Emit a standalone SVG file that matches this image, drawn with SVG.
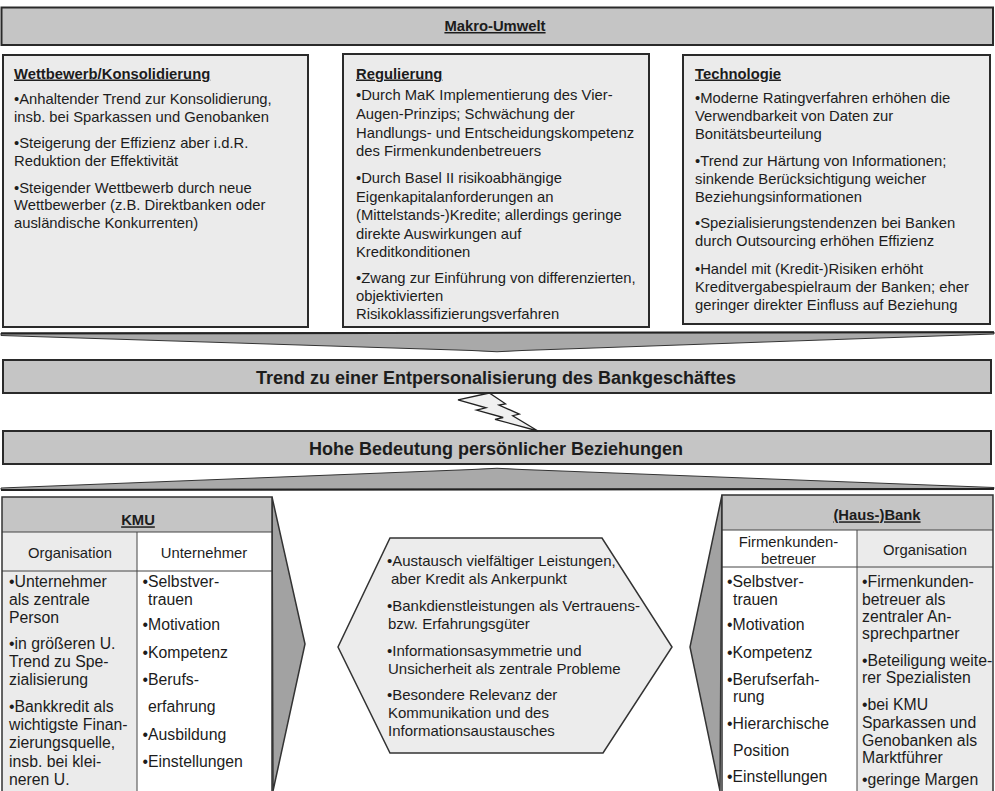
<svg xmlns="http://www.w3.org/2000/svg" width="995" height="791" viewBox="0 0 995 791">
<style>
.t{font-family:"Liberation Sans",Arial,Helvetica,sans-serif;font-size:14.8px;fill:#1c1c1c}
.m{font-size:15px}
.s{font-size:15.8px}
.h{font-weight:bold;text-decoration:underline}
.big{font-family:"Liberation Sans",Arial,Helvetica,sans-serif;font-size:18px;font-weight:bold;fill:#1c1c1c}
.c{text-anchor:middle}
.bar{fill:#c5c5c5;stroke:#2a2a2a;stroke-width:2}
.box{fill:#ebebeb;stroke:#2a2a2a;stroke-width:2}
.grid{fill:none;stroke:#444;stroke-width:1}
.chev{fill:#a9a9a9;stroke:#333;stroke-width:1}
.wedge{fill:#a2a2a2;stroke:#333;stroke-width:1.5}
</style>

<g id="banner">
<rect class="bar" x="1.5" y="7.5" width="991.5" height="37.5"/>
<text class="t h c" x="495" y="31">Makro-Umwelt</text>
</g>

<g id="box-wettbewerb">
<rect class="box" x="3" y="55" width="305" height="272"/>
<text class="t h" x="14" y="78.5">Wettbewerb/Konsolidierung</text>
<text class="t" x="14" y="104">•Anhaltender Trend zur Konsolidierung,</text>
<text class="t" x="14" y="121.5">insb. bei Sparkassen und Genobanken</text>
<text class="t" x="14" y="148">•Steigerung der Effizienz aber i.d.R.</text>
<text class="t" x="14" y="165.8">Reduktion der Effektivität</text>
<text class="t" x="14" y="192.5">•Steigender Wettbewerb durch neue</text>
<text class="t" x="14" y="210.2">Wettbewerber (z.B. Direktbanken oder</text>
<text class="t" x="14" y="228.2">ausländische Konkurrenten)</text>
</g>

<g id="box-regulierung">
<rect class="box" x="343" y="54" width="306" height="273"/>
<text class="t h" x="356" y="78.5">Regulierung</text>
<text class="t" x="356" y="100">•Durch MaK Implementierung des Vier-</text>
<text class="t" x="356" y="118.8">Augen-Prinzips; Schwächung der</text>
<text class="t" x="356" y="137.6">Handlungs- und Entscheidungskompetenz</text>
<text class="t" x="356" y="156.4">des Firmenkundenbetreuers</text>
<text class="t" x="356" y="183">•Durch Basel II risikoabhängige</text>
<text class="t" x="356" y="201.5">Eigenkapitalanforderungen an</text>
<text class="t" x="356" y="220">(Mittelstands-)Kredite; allerdings geringe</text>
<text class="t" x="356" y="238.5">direkte Auswirkungen auf</text>
<text class="t" x="356" y="257">Kreditkonditionen</text>
<text class="t" x="356" y="283.3">•Zwang zur Einführung von differenzierten,</text>
<text class="t" x="356" y="301">objektivierten</text>
<text class="t" x="356" y="318.5">Risikoklassifizierungsverfahren</text>
</g>

<g id="box-technologie">
<rect class="box" x="683" y="55" width="307" height="269"/>
<text class="t h" x="695" y="78.5">Technologie</text>
<text class="t" x="695" y="103.3">•Moderne Ratingverfahren erhöhen die</text>
<text class="t" x="695" y="121">Verwendbarkeit von Daten zur</text>
<text class="t" x="695" y="139">Bonitätsbeurteilung</text>
<text class="t" x="695" y="166">•Trend zur Härtung von Informationen;</text>
<text class="t" x="695" y="183.5">sinkende Berücksichtigung weicher</text>
<text class="t" x="695" y="201.7">Beziehungsinformationen</text>
<text class="t" x="695" y="228.3">•Spezialisierungstendenzen bei Banken</text>
<text class="t" x="695" y="245.8">durch Outsourcing erhöhen Effizienz</text>
<text class="t" x="695" y="274">•Handel mit (Kredit-)Risiken erhöht</text>
<text class="t" x="695" y="291.7">Kreditvergabespielraum der Banken; eher</text>
<text class="t" x="695" y="310">geringer direkter Einfluss auf Beziehung</text>
</g>

<g id="bar-trend">
<rect class="bar" x="3" y="360" width="988" height="33"/>
<text class="big c" x="496" y="383.5">Trend zu einer Entpersonalisierung des Bankgeschäftes</text>
</g>

<g id="bar-hohe">
<rect class="bar" x="3" y="431" width="988" height="33"/>
<text class="big c" x="496" y="454.5">Hohe Bedeutung persönlicher Beziehungen</text>
</g>

<g id="connectors">
<path class="chev" d="M1,333 L994,332 L994,334 L522,350.5 Q497,353 472,350.5 L1,335.5 Z"/>
<path d="M1,333.5 L994,332.2" fill="none" stroke="#222" stroke-width="2"/>
<path class="chev" d="M1,489.5 L994,488.5 L994,487.5 L522,469.5 Q497,467 472,469.5 L1,488 Z"/>
<path d="M1,490 L994,489" fill="none" stroke="#222" stroke-width="2"/>
<path d="M489.3,393 L458,399.9 L486,407.8 L476.5,410.1 L503.2,417.5 L495,419.3 L538,431 L512.7,415.7 L519.3,414.1 L498.9,405 L505.5,403.8 Z" fill="#f0f0f0" stroke="#222" stroke-width="1.3" stroke-linejoin="miter"/>
</g>

<g id="kmu">
<polygon class="wedge" points="272,497 305,644 273,791"/>
<rect x="2" y="497" width="270" height="35" fill="#c5c5c5"/>
<rect x="2" y="532" width="135" height="262" fill="#ebebeb"/>
<rect x="137" y="532" width="135" height="262" fill="#ffffff"/>
<line class="grid" x1="2" y1="532" x2="272" y2="532"/>
<line class="grid" x1="2" y1="571" x2="272" y2="571"/>
<line class="grid" x1="137" y1="532" x2="137" y2="794"/>
<path d="M2,794 L2,497 L272,497 L272,794" fill="none" stroke="#333" stroke-width="1.5"/>
<text class="t h c" x="138" y="525.3">KMU</text>
<text class="t c" x="70" y="558">Organisation</text>
<text class="t c" x="204" y="558">Unternehmer</text>
<text class="t s" x="9" y="587.3">•Unternehmer</text>
<text class="t s" x="9" y="605">als zentrale</text>
<text class="t s" x="9" y="623.3">Person</text>
<text class="t s" x="9" y="649.3">•in größeren U.</text>
<text class="t s" x="9" y="666.7">Trend zu Spe-</text>
<text class="t s" x="9" y="685">zialisierung</text>
<text class="t s" x="9" y="711.7">•Bankkredit als</text>
<text class="t s" x="9" y="730">wichtigste Finan-</text>
<text class="t s" x="9" y="748.3">zierungsquelle,</text>
<text class="t s" x="9" y="766.7">insb. bei klei-</text>
<text class="t s" x="9" y="785">neren U.</text>
<text class="t s" x="142.5" y="587.3">•Selbstver-</text>
<text class="t s" x="148" y="605">trauen</text>
<text class="t s" x="142.5" y="630">•Motivation</text>
<text class="t s" x="142.5" y="658.3">•Kompetenz</text>
<text class="t s" x="142.5" y="685">•Berufs-</text>
<text class="t s" x="148" y="711.7">erfahrung</text>
<text class="t s" x="142.5" y="740">•Ausbildung</text>
<text class="t s" x="142.5" y="766.7">•Einstellungen</text>
</g>

<g id="hexagon">
<polygon points="390,538 602,538 672,647 603,753 390,753 338,647" fill="#ececec" stroke="#333" stroke-width="1.5"/>
<text class="t m" x="387" y="566.3">•Austausch vielfältiger Leistungen,</text>
<text class="t m" x="391" y="584.3">aber Kredit als Ankerpunkt</text>
<text class="t m" x="387" y="611">•Bankdienstleistungen als Vertrauens-</text>
<text class="t m" x="388" y="629">bzw. Erfahrungsgüter</text>
<text class="t m" x="387" y="655.7">•Informationsasymmetrie und</text>
<text class="t m" x="388" y="673.7">Unsicherheit als zentrale Probleme</text>
<text class="t m" x="387" y="700">•Besondere Relevanz der</text>
<text class="t m" x="388" y="718.3">Kommunikation und des</text>
<text class="t m" x="388" y="735.7">Informationsaustausches</text>
</g>

<g id="bank">
<polygon class="wedge" points="722,495 690,647 720,791"/>
<rect x="722" y="495" width="271" height="35" fill="#c5c5c5"/>
<rect x="722" y="530" width="135" height="264" fill="#ffffff"/>
<rect x="857" y="530" width="136" height="264" fill="#ebebeb"/>
<line class="grid" x1="722" y1="530" x2="993" y2="530"/>
<line class="grid" x1="722" y1="567" x2="993" y2="567"/>
<line class="grid" x1="857" y1="530" x2="857" y2="794"/>
<path d="M722,794 L722,495 L993,495 L993,794" fill="none" stroke="#333" stroke-width="1.5"/>
<text class="t h c" x="877" y="520.3">(Haus-)Bank</text>
<text class="t c" x="788.5" y="547">Firmenkunden-</text>
<text class="t c" x="788.5" y="564">betreuer</text>
<text class="t c" x="925" y="554.6">Organisation</text>
<text class="t s" x="727" y="587">•Selbstver-</text>
<text class="t s" x="733" y="604.5">trauen</text>
<text class="t s" x="727" y="630">•Motivation</text>
<text class="t s" x="727" y="657.7">•Kompetenz</text>
<text class="t s" x="727" y="685">•Berufserfah-</text>
<text class="t s" x="733" y="702.3">rung</text>
<text class="t s" x="727" y="729">•Hierarchische</text>
<text class="t s" x="733" y="755.7">Position</text>
<text class="t s" x="727" y="781.7">•Einstellungen</text>
<text class="t s" x="862" y="587">•Firmenkunden-</text>
<text class="t s" x="862" y="604.5">betreuer als</text>
<text class="t s" x="862" y="622">zentraler An-</text>
<text class="t s" x="862" y="639.3">sprechpartner</text>
<text class="t s" x="862" y="665.7">•Beteiligung weite-</text>
<text class="t s" x="862" y="683.3">rer Spezialisten</text>
<text class="t s" x="862" y="710">•bei KMU</text>
<text class="t s" x="862" y="728.3">Sparkassen und</text>
<text class="t s" x="862" y="745.7">Genobanken als</text>
<text class="t s" x="862" y="763.3">Marktführer</text>
<text class="t s" x="862" y="785">•geringe Margen</text>
</g>
</svg>
